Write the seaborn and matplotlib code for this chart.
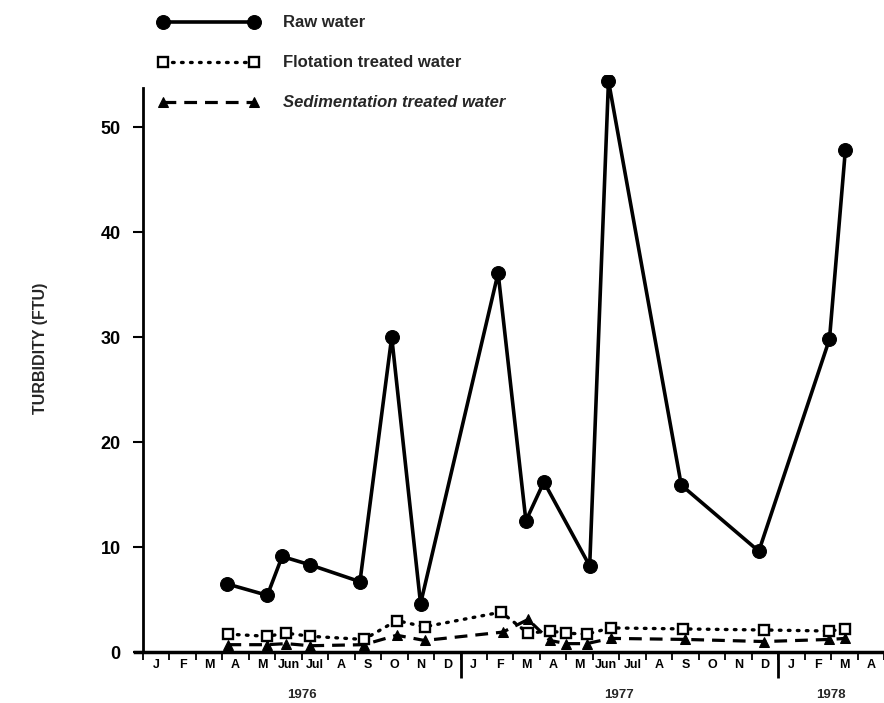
import numpy as np
import pandas as pd
import matplotlib
matplotlib.use("Agg")
import matplotlib.pyplot as plt
import matplotlib.transforms as mtransforms
import seaborn as sns

# ---- data (x = months since 1 Jan 1976) ----
raw_month = [3.16, 4.70, 5.26, 6.32, 8.20, 9.40, 10.49, 13.42, 14.47, 15.15,
             16.88, 17.59, 20.34, 23.27, 25.94, 26.54]
raw_ftu = [6.5, 5.4, 9.1, 8.3, 6.7, 30.0, 4.6, 36.1, 12.5, 16.2,
           8.2, 54.4, 15.9, 9.6, 29.8, 47.8]

flot_month = [3.23, 4.70, 5.41, 6.32, 8.35, 9.59, 10.64, 13.53, 14.55, 15.38,
              16.00, 16.77, 17.67, 20.41, 23.46, 25.94, 26.54]
flot_ftu = [1.7, 1.5, 1.8, 1.5, 1.2, 3.0, 2.4, 3.8, 1.8, 2.0,
            1.8, 1.7, 2.3, 2.2, 2.1, 2.0, 2.2]

sed_month = [3.23, 4.70, 5.41, 6.32, 8.35, 9.59, 10.64, 13.60, 14.55, 15.38,
             16.00, 16.77, 17.67, 20.50, 23.46, 25.94, 26.54]
sed_ftu = [0.7, 0.7, 0.8, 0.6, 0.7, 1.6, 1.1, 1.9, 3.1, 1.1,
           0.8, 0.8, 1.3, 1.2, 1.0, 1.2, 1.3]

month_labels = ["J", "F", "M", "A", "M", "Jun", "Jul", "A", "S", "O", "N", "D",
                "J", "F", "M", "A", "M", "Jun", "Jul", "A", "S", "O", "N", "D",
                "J", "F", "M", "A"]
year_labels = ["1976", "1977", "1978"]
year_label_pos = [6.0, 18.0, 26.0]
year_bounds = [12, 24]
y_ticks = [0, 10, 20, 30, 40, 50]

series_names = ["Raw water", "Flotation treated water", "Sedimentation treated water"]

# ---- style ----
sns.set_theme(style="white")
plt.rcParams["font.family"] = ["Liberation Sans", "DejaVu Sans"]
plt.rcParams["font.weight"] = "bold"

fig = plt.figure(figsize=(8.84, 7.03), dpi=100)
ax = fig.add_axes([0.1527, 0.0725, 0.8473, 0.8215])

raw_df = pd.DataFrame({"month": raw_month, "ftu": raw_ftu})
flot_df = pd.DataFrame({"month": flot_month, "ftu": flot_ftu})
sed_df = pd.DataFrame({"month": sed_month, "ftu": sed_ftu})

sns.lineplot(data=raw_df, x="month", y="ftu", ax=ax, color="black",
             linewidth=2.6, marker="o", markersize=10, markeredgecolor="black",
             label=series_names[0], estimator=None, zorder=3)
sns.lineplot(data=flot_df, x="month", y="ftu", ax=ax, color="black",
             linewidth=2.4, linestyle=(0, (0.5, 2.2)), dash_capstyle="round",
             marker="s", markersize=6.5, markerfacecolor="white",
             markeredgecolor="black", markeredgewidth=1.7,
             label=series_names[1], estimator=None, zorder=4)
sns.lineplot(data=sed_df, x="month", y="ftu", ax=ax, color="black",
             linewidth=2.3, linestyle=(0, (4.0, 2.5)),
             marker="^", markersize=7.5, markeredgecolor="black",
             label=series_names[2], estimator=None, zorder=2)

if ax.get_legend() is not None:
    ax.get_legend().remove()

ax.set_xlim(-0.3, 27.86)
ax.set_ylim(0, 55)

for s in ["top", "right"]:
    ax.spines[s].set_visible(False)
ax.spines["left"].set_position(("data", 0))
ax.spines["left"].set_bounds(0, 53.7)
ax.spines["left"].set_linewidth(2.0)
ax.spines["bottom"].set_linewidth(2.5)
ax.spines["left"].set_color("black")
ax.spines["bottom"].set_color("black")

# y ticks
ax.set_yticks(y_ticks)
ax.set_yticklabels([str(v) for v in y_ticks], fontsize=13, fontweight="bold")
ax.tick_params(axis="y", direction="out", length=7, width=1.5, pad=9,
               left=True, colors="black")

# x ticks: boundaries (major, no labels) and centers (minor, labels)
ax.set_xticks(np.arange(0, 29))
ax.set_xticklabels([""] * 29)
ax.set_xticks(np.arange(len(month_labels)) + 0.5, minor=True)
ax.set_xticklabels(month_labels, minor=True, fontsize=9, fontweight="bold")
ax.tick_params(axis="x", which="major", direction="out", length=6, width=1.3,
               bottom=True, colors="black")
ax.tick_params(axis="x", which="minor", length=0, pad=5, colors="black")

trans = mtransforms.blended_transform_factory(ax.transData, ax.transAxes)
ax.vlines(year_bounds, -0.045, 0, transform=trans, color="black",
          linewidth=2.0, clip_on=False)
for lab, pos in zip(year_labels, year_label_pos):
    ax.text(pos, -0.075, lab, transform=trans, ha="center", va="center",
            fontsize=9.5, fontweight="bold")

ax.set_xlabel("")
ax.set_ylabel("")
fig.text(0.046, 0.505, "TURBIDITY (FTU)", rotation=90, ha="center", va="center",
         fontsize=11.5, fontweight="bold")

ax.grid(False)

handles, labels = ax.get_legend_handles_labels()
leg = fig.legend(handles, labels, loc="upper left",
                 bbox_to_anchor=(0.169, 0.99), frameon=False, numpoints=2,
                 handlelength=6.1, handletextpad=1.4, labelspacing=1.5,
                 borderpad=0, prop={"size": 12, "weight": "bold"})
for t in leg.get_texts():
    if t.get_text().startswith("Sedimentation"):
        t.set_fontstyle("italic")

fig.savefig("out.png", dpi=100, facecolor="white")
